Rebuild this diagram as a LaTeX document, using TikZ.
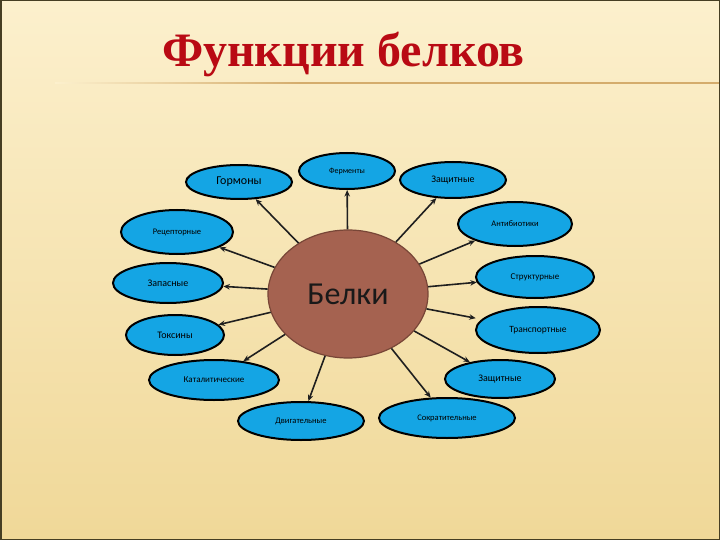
\documentclass[tikz,border=0pt]{standalone}
\usepackage{fontspec}
\setmainfont{Liberation Serif}
\newfontfamily\labelfont{Carlito}
\usetikzlibrary{shapes.geometric,arrows.meta}
\definecolor{bgtop}{RGB}{252,240,205}
\definecolor{bgbot}{RGB}{240,216,152}
\definecolor{framec}{RGB}{70,62,35}
\definecolor{titlered}{RGB}{185,10,20}
\definecolor{rulec}{RGB}{212,172,108}
\definecolor{bluefill}{RGB}{20,165,228}
\definecolor{brownfill}{RGB}{165,98,80}
\definecolor{browndraw}{RGB}{120,70,55}
\tikzset{
  fn/.style={ellipse, draw=black, line width=2pt, fill=bluefill, inner sep=0pt,
    font=\labelfont, text=black},
  conn/.style={-{Stealth[length=6.5pt,width=5.5pt]}, line width=1.6pt, draw=black!88},
}
\begin{document}
\begin{tikzpicture}[x=1pt,y=-1pt]
\useasboundingbox (0,0) rectangle (720,540);
\shade[top color=bgtop, bottom color=bgbot] (0,0) rectangle (720,540);
\draw[framec, line width=1.5pt] (0.75,0.75) rectangle (719.25,539.25);
\shade[left color=bgtop, right color=rulec] (55,82.3) rectangle (300,83.8);
\fill[rulec] (300,82.3) rectangle (719,83.8);
\node[font=\bfseries\fontsize{48}{52}\selectfont, text=titlered, anchor=base, inner sep=0pt] (title) at (343.5,67) {Функции белков};

\node[ellipse, draw=browndraw, line width=1.2pt, fill=brownfill, minimum width=160, minimum height=128, inner sep=0pt, font=\labelfont\fontsize{32}{36}\selectfont, text=black!90] (c) at (348,294) {Белки};

\node[fn, minimum width=106, minimum height=34, font=\labelfont\fontsize{12}{14}\selectfont] (gorm) at (239,182) {Гормоны};
\node[fn, minimum width=96, minimum height=36, font=\labelfont\fontsize{8}{10}\selectfont] (ferm) at (347,171) {Ферменты};
\node[fn, minimum width=106, minimum height=36, font=\labelfont\fontsize{10}{12}\selectfont] (zash1) at (453,180) {Защитные};
\node[fn, minimum width=114, minimum height=44, font=\labelfont\fontsize{8.5}{10}\selectfont] (anti) at (515,224) {Антибиотики};
\node[fn, minimum width=112, minimum height=44, font=\labelfont\fontsize{8.5}{10}\selectfont] (recep) at (177,232) {Рецепторные};
\node[fn, minimum width=110, minimum height=40, font=\labelfont\fontsize{10}{12}\selectfont] (zapas) at (168,283) {Запасные};
\node[fn, minimum width=118, minimum height=42, font=\labelfont\fontsize{9}{11}\selectfont] (struct) at (535,277) {Структурные};
\node[fn, minimum width=98, minimum height=40, font=\labelfont\fontsize{10}{12}\selectfont] (toks) at (175,335) {Токсины};
\node[fn, minimum width=124, minimum height=46, font=\labelfont\fontsize{9.5}{11}\selectfont] (trans) at (538,330) {Транспортные};
\node[fn, minimum width=130, minimum height=40, font=\labelfont\fontsize{9}{11}\selectfont] (katal) at (214,380) {Каталитические};
\node[fn, minimum width=110, minimum height=38, font=\labelfont\fontsize{10}{12}\selectfont] (zash2) at (500,379) {Защитные};
\node[fn, minimum width=126, minimum height=38, font=\labelfont\fontsize{8.5}{10}\selectfont] (dvig) at (301,421) {Двигательные};
\node[fn, minimum width=136, minimum height=40, font=\labelfont\fontsize{8.5}{10}\selectfont] (sokr) at (447,418) {Сократительные};

\draw[conn] (c) -- (gorm);
\draw[conn] (c) -- (ferm);
\draw[conn] (c) -- (zash1);
\draw[conn] (c) -- (anti);
\draw[conn] (c) -- (recep);
\draw[conn] (c) -- (zapas);
\draw[conn] (c) -- (struct);
\draw[conn] (c) -- (toks);
\draw[conn, shorten >=6pt] (c) -- (trans);
\draw[conn] (c) -- (katal);
\draw[conn] (c) -- (zash2);
\draw[conn] (c) -- (dvig);
\draw[conn] (c) -- (sokr);
\end{tikzpicture}
\end{document}
